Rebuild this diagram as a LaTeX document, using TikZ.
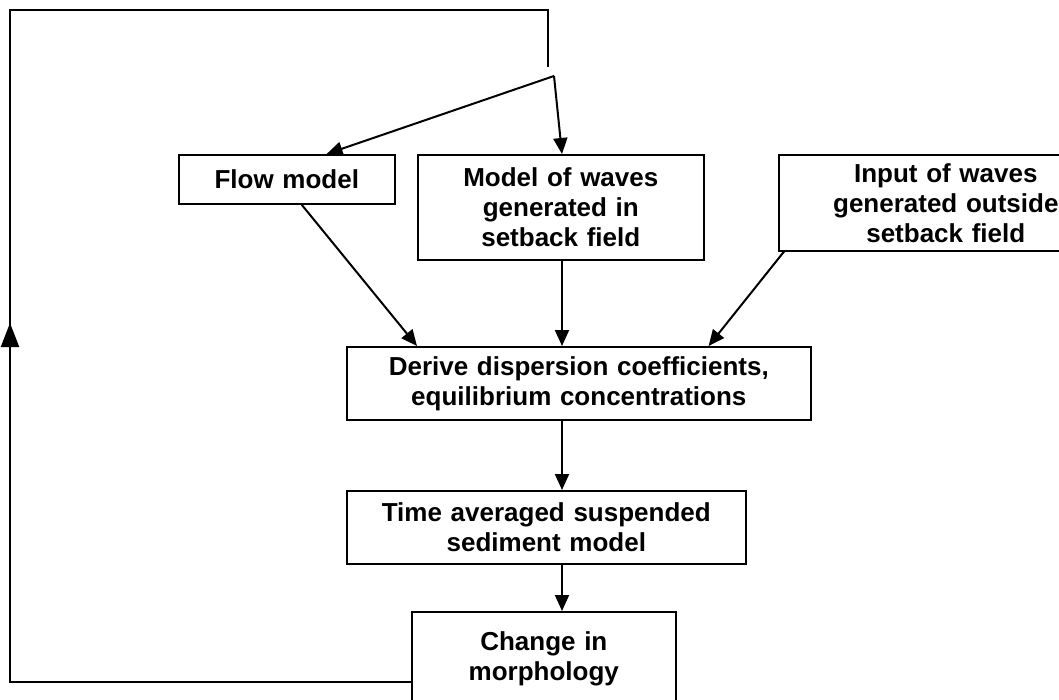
\documentclass[tikz,border=0pt]{standalone}
\usepackage{fontspec}
\setmainfont{Liberation Sans}
\usetikzlibrary{positioning,arrows.meta}
\tikzset{%
  box/.style = {rectangle,draw,line width=1.6pt,inner sep=0pt,align=center,
        anchor=north west,font=\fontsize{26}{30}\selectfont\bfseries},
  downarrow/.style = {-{Triangle[length=16pt,width=14pt]},line width=2pt},
  backline/.style = {line width=2.2pt},
  backtip/.style = {-{Triangle[length=24pt,width=18pt]},line width=2.2pt}
}

\begin{document}
\begin{tikzpicture}[x=1pt,y=-1pt]
  \useasboundingbox (0,0) rectangle (1059,700);

  \node[box,minimum width=216pt,minimum height=49pt,text width=216pt] (flow) at (178,154) {Flow model};
  \node[box,minimum width=286pt,minimum height=105pt,text width=286pt] (waves) at (417,154)
        {Model of waves\\generated in\\setback field};
  \node[box,minimum width=334pt,minimum height=96pt,text width=334pt] (input) at (778,154)
        {Input of waves\\generated outside\\setback field};
  \node[box,minimum width=464pt,minimum height=73pt,text width=464pt] (derive) at (346,346)
        {Derive dispersion coefficients,\\equilibrium concentrations};
  \node[box,minimum width=399pt,minimum height=73pt,text width=399pt] (time) at (346,490)
        {Time averaged suspended\\sediment model};
  \node[box,minimum width=264pt,minimum height=94pt,text width=264pt] (change) at (411,611)
        {Change in\\morphology};

  \coordinate (top) at (548,67);
  \coordinate (split) at (554,76);

  % feedback loop round the left side
  \draw[backline] ([yshift=-71pt]change.north west) -- (10,682) -- (10,10) -- (548,10) -- (top);
  \draw[backtip] (10,350) -- (10,323);

  \draw[downarrow] (split) -- ([xshift=-69pt]flow.north east);
  \draw[downarrow] (split) -- (waves.north -| 562,0);

  \draw[downarrow] ([xshift=-94pt]flow.south east) -- ([xshift=71pt]derive.north west);
  \draw[downarrow] (waves.south -| 562,0) -- (derive.north -| 562,0);
  \draw[downarrow] ([xshift=6pt]input.south west) -- ([xshift=-103pt]derive.north east);
  \draw[downarrow] (derive.south -| 562,0) -- (time.north -| 562,0);
  \draw[downarrow] (time.south -| 562,0) -- (change.north -| 562,0);
\end{tikzpicture}
\end{document}
